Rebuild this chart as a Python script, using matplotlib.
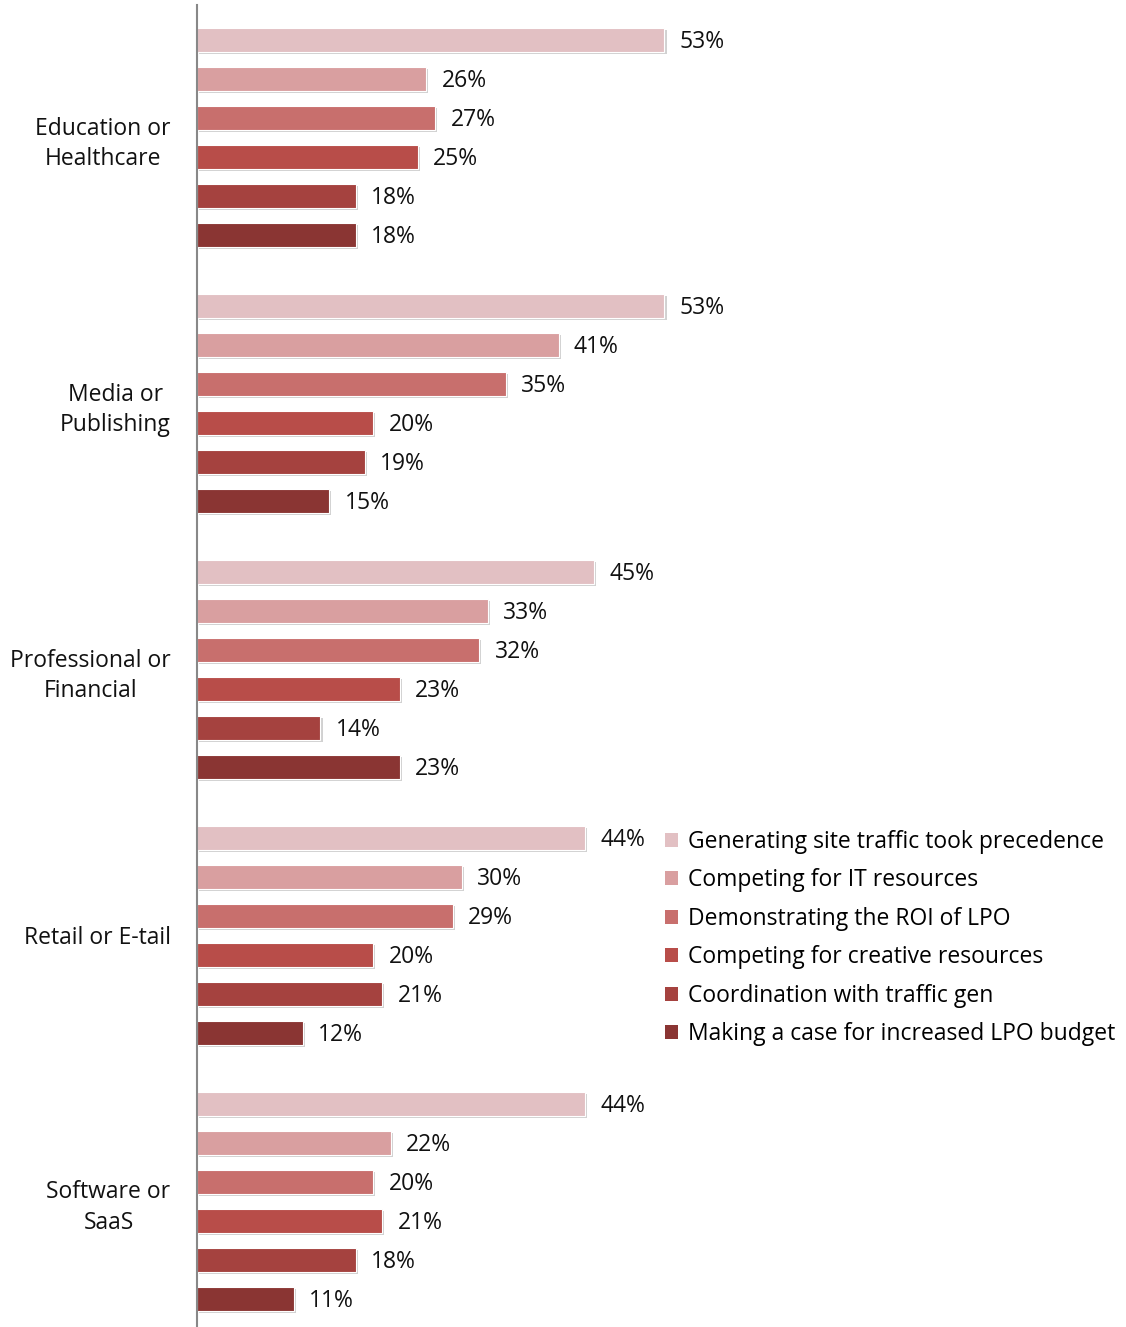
import matplotlib.pyplot as plt
import matplotlib.patheffects as pe
from matplotlib.patches import Patch

# ========= data =========
industries = [
    "Education or\nHealthcare",
    "Media or\nPublishing",
    "Professional or\nFinancial",
    "Retail or E-tail",
    "Software or\nSaaS",
]
challenges = [
    "Generating site traffic took precedence",
    "Competing for IT resources",
    "Demonstrating the ROI of LPO",
    "Competing for creative resources",
    "Coordination with traffic gen",
    "Making a case for increased LPO budget",
]
# one row per industry, one value per challenge (%)
education = [53, 26, 27, 25, 18, 18]
media = [53, 41, 35, 20, 19, 15]
professional = [45, 33, 32, 23, 14, 23]
retail = [44, 30, 29, 20, 21, 12]
software = [44, 22, 20, 21, 18, 11]
values = [education, media, professional, retail, software]

colors = ["#E2C0C3", "#D99FA0", "#C86F6D", "#B84D49", "#A5423F", "#8A3533"]

# ========= layout =========
GROUP_PITCH = 6.82
BAR_H = 0.62

plt.rcParams["font.family"] = ["Open Sans", "DejaVu Sans"]
FS = 16.5

fig = plt.figure(figsize=(11.26, 13.27), dpi=100)
ax = fig.add_axes([197 / 1126, 0, 929 / 1126, 1322 / 1327])

shadow = [pe.SimplePatchShadow(offset=(1.5, -1.5), shadow_rgbFace="#999999", alpha=0.45), pe.Normal()]

centers = []
for g, row in enumerate(values):
    ys = [g * GROUP_PITCH + i for i in range(len(row))]
    centers.append(sum(ys) / len(ys))
    for i, (y, v) in enumerate(zip(ys, row)):
        bar = ax.barh(y, v, height=BAR_H, color=colors[i], edgecolor="white", linewidth=0.8)
        for p in bar.patches:
            p.set_path_effects(shadow)
        ax.annotate(f"{v}%", (v, y), xytext=(11, -1.5), textcoords="offset points",
                    va="center", ha="left", fontsize=FS, color="#111111")

ax.set_xlim(0, 929 / 8.82)
ax.set_ylim(4 * GROUP_PITCH + 5 + 0.72, -0.9)

ax.set_yticks(centers)
ax.set_yticklabels(industries, fontsize=FS, color="#111111")
for lab in ax.get_yticklabels():
    lab.set_multialignment("center")
    lab.set_linespacing(1.35)
ax.tick_params(axis="y", length=0, pad=19)
ax.set_xticks([])

for s in ["top", "right", "bottom"]:
    ax.spines[s].set_visible(False)
ax.spines["left"].set_color("#888888")
ax.spines["left"].set_linewidth(1.5)

handles = [Patch(facecolor=c, edgecolor="none") for c in colors]
fig.legend(handles, challenges, loc="upper left",
           bbox_to_anchor=(665 / 1126, 1 - 830 / 1327),
           frameon=False, fontsize=FS, handlelength=0.55, handleheight=0.55,
           handletextpad=0.45, labelspacing=0.63, borderaxespad=0, borderpad=0)

fig.savefig("out.png", dpi=100)
